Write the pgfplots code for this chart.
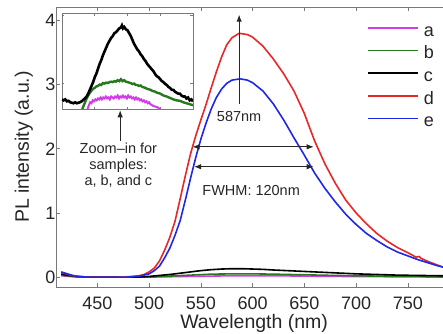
\documentclass[border=0pt]{standalone}
\usepackage{fontspec}
\setmainfont{Liberation Sans}
\usepackage{pgfplots}
\pgfplotsset{compat=1.18}
\usetikzlibrary{arrows.meta}
\definecolor{ca}{RGB}{210,60,230}
\definecolor{cb}{RGB}{40,120,30}
\definecolor{cc}{RGB}{0,0,0}
\definecolor{cd}{RGB}{230,40,40}
\definecolor{ce}{RGB}{30,40,230}
\definecolor{axgray}{RGB}{120,120,120}
\begin{document}
\begin{tikzpicture}
\begin{axis}[
  name=main,
  width=387pt, height=280pt, scale only axis,
  xmin=410, xmax=784, ymin=-0.155, ymax=4.21,
  axis x line=box, axis y line=left,
  axis line style={-, draw=axgray, line width=0.8pt},
  tick align=inside, major tick length=4pt,
  tick style={axgray, line width=0.6pt},
  xtick={450,500,...,750}, ytick={0,1,2,3,4},
  /pgf/number format/assume math mode=true,
  ticklabel style={font=\fontsize{18}{20}\selectfont, text=black!85},
  xticklabel style={anchor=base, yshift=-23pt},
  yticklabel style={anchor=east, xshift=3pt},
  xlabel={Wavelength (nm)}, ylabel={PL intensity (a.u.)},
  label style={font=\fontsize{19.5}{22}\selectfont, text=black!85},
  xlabel style={at={(axis description cs:0.512,0)}, anchor=base, yshift=-42pt},
  ylabel style={at={(axis description cs:-0.083,0.5)}, anchor=center},
  legend cell align=left,
  legend image code/.code={\draw[#1, line width=1.6pt] (0pt,4.7pt) -- (50pt,4.7pt);},
  legend style={draw=none, fill=none, at={(0.8036,0.95)}, anchor=north west,
    inner sep=0pt, row sep=0pt, column sep=5pt,
    nodes={inner sep=0pt, text height=15pt, text depth=7.7pt, font=\fontsize{18}{20}\selectfont, text=black!85}},
]
% a
\addplot[ca, line width=1.6pt] coordinates {
(415,0.02) (430,0.0) (500,0.0) (540,0.01) (580,0.02) (620,0.02) (680,0.01) (784,0.0)};
\addlegendentry{a}
% b
\addplot[cb, line width=1.6pt] coordinates {
(415,0.03) (430,0.005) (440,0) (500,0) (520,0.015) (540,0.03) (560,0.045) (580,0.05) (600,0.05) (620,0.045) (650,0.035) (680,0.025) (720,0.015) (760,0.01) (784,0.005)};
\addlegendentry{b}
% c
\addplot[cc, line width=1.6pt] coordinates {
(415,0.05) (420,0.03) (430,0.01) (440,0.0) (490,0.0) (500,0.01) (510,0.025) (520,0.04) (530,0.06) (540,0.08) (550,0.10) (560,0.115) (570,0.125) (580,0.13) (590,0.13) (600,0.125) (610,0.12) (620,0.11) (640,0.095) (660,0.08) (680,0.065) (700,0.05) (720,0.04) (740,0.03) (760,0.025) (784,0.02)};
\addlegendentry{c}
% d
\addplot[cd, line width=1.6pt] coordinates {
(415,0.07) (420,0.05) (425,0.025) (430,0.01) (440,0.0) (450,0.0) (460,0.0) (470,0.0) (480,0.005) (490,0.02) (495,0.04) (500,0.08) (505,0.14) (510,0.25) (515,0.42) (520,0.62) (525,0.87) (530,1.22) (535,1.58) (540,1.92) (545,2.2) (550,2.45) (555,2.69) (560,2.95) (565,3.2) (570,3.43) (575,3.62) (580,3.73) (587,3.80) (595,3.78) (600,3.74) (610,3.6) (620,3.4) (630,3.17) (640,2.9) (650,2.55) (660,2.12) (670,1.76) (680,1.46) (690,1.2) (700,1.0) (710,0.83) (720,0.68) (730,0.56) (740,0.46) (750,0.38) (758,0.31) (761,0.32) (763,0.29) (770,0.24) (778,0.19) (784,0.155)};
\addlegendentry{d}
% e
\addplot[ce, line width=1.6pt] coordinates {
(415,0.08) (420,0.055) (425,0.03) (430,0.012) (440,0.0) (450,0.0) (460,0.0) (470,0.0) (480,0.0) (490,0.012) (495,0.03) (500,0.05) (505,0.1) (510,0.17) (515,0.3) (520,0.45) (525,0.65) (530,0.88) (535,1.2) (540,1.54) (545,1.86) (550,2.15) (555,2.4) (560,2.62) (565,2.8) (570,2.93) (575,3.02) (580,3.07) (588,3.09) (595,3.07) (600,3.03) (610,2.9) (620,2.7) (630,2.45) (640,2.17) (650,1.9) (660,1.62) (670,1.38) (680,1.17) (690,0.98) (700,0.82) (710,0.68) (720,0.57) (730,0.47) (740,0.39) (750,0.33) (760,0.27) (770,0.22) (778,0.18) (784,0.155)};
\addlegendentry{e}

\draw[-{Latex[length=7pt,width=5.5pt]}, line width=0.9pt, black!85] (axis cs:587,2.70) -- (axis cs:587,4.09);
\node[font=\fontsize{14.5}{16}\selectfont, text=black!85] at (axis cs:587,2.51) {587nm};
\draw[{Latex[length=7pt,width=5.5pt]}-{Latex[length=7pt,width=5.5pt]}, line width=0.9pt, black!85] (axis cs:542,2.03) -- (axis cs:659,2.03);
\draw[{Latex[length=7pt,width=5.5pt]}-{Latex[length=7pt,width=5.5pt]}, line width=0.9pt, black!85] (axis cs:543.5,1.72) -- (axis cs:659,1.72);
\node[font=\fontsize{14.5}{16}\selectfont, text=black!85] at (axis cs:598.6,1.35) {FWHM: 120nm};
\node[align=center, font=\fontsize{14.5}{16}\selectfont, text=black!85] at (axis cs:470.3,1.74) {Zoom--in for\\samples:\\a, b, and c};
\draw[-{Latex[length=7pt,width=5.5pt]}, line width=0.9pt, black!85] (axis cs:472,2.12) -- (axis cs:472,2.60);

\coordinate (insetSW) at (rel axis cs:0.0155,0.6357);
\coordinate (SW) at (rel axis cs:0,0);
\coordinate (NE) at (rel axis cs:1,1);
\end{axis}

\begin{axis}[
  at={(insetSW)}, anchor=south west,
  width=131pt, height=96pt, scale only axis,
  xmin=400, xmax=800, ymin=0, ymax=1,
  axis line style={draw=axgray, line width=0.8pt},
  axis background/.style={fill=white},
  tick align=inside, major tick length=2.5pt,
  tick style={axgray, line width=0.5pt},
  xtick={500,600,700}, ytick={0.27,0.98},
  xticklabels={}, yticklabels={},
]
\addplot[ca, line width=2pt] coordinates {
(478,0.0) (482,0.04) (486,0.07) (490,0.06) (494,0.09) (498,0.08) (502,0.1) (506,0.09) (510,0.11) (514,0.1) (518,0.12) (522,0.1) (526,0.12) (530,0.11) (534,0.13) (538,0.11) (542,0.12) (546,0.1) (550,0.13) (554,0.12) (558,0.11) (562,0.13) (566,0.12) (570,0.14) (574,0.11) (578,0.13) (582,0.12) (586,0.14) (590,0.12) (594,0.13) (598,0.11) (602,0.14) (606,0.12) (610,0.13) (614,0.11) (618,0.12) (622,0.1) (626,0.12) (630,0.1) (634,0.11) (638,0.09) (642,0.1) (646,0.08) (650,0.09) (654,0.07) (658,0.08) (662,0.06) (666,0.07) (670,0.05) (675,0.04) (680,0.03) (690,0.02) (700,0.0)};
\addplot[cb, line width=2.4pt] coordinates {
(462,0.0) (468,0.05) (474,0.1) (480,0.14) (485,0.17) (490,0.19) (495,0.21) (500,0.22) (505,0.235) (510,0.24) (515,0.255) (520,0.25) (525,0.27) (530,0.265) (535,0.275) (540,0.27) (545,0.28) (550,0.285) (555,0.28) (560,0.29) (565,0.285) (570,0.3) (575,0.29) (580,0.31) (585,0.29) (590,0.3) (595,0.285) (600,0.28) (605,0.275) (610,0.27) (615,0.26) (620,0.265) (625,0.25) (630,0.25) (635,0.24) (640,0.245) (645,0.23) (650,0.225) (655,0.22) (660,0.21) (665,0.205) (670,0.2) (675,0.19) (680,0.185) (685,0.18) (690,0.17) (695,0.165) (700,0.16) (710,0.14) (720,0.13) (730,0.115) (740,0.1) (750,0.09) (760,0.085) (770,0.07) (780,0.06) (790,0.05) (800,0.04)};
\addplot[cc, line width=2.6pt] coordinates {
(400,0.10) (405,0.09) (410,0.1) (415,0.08) (420,0.085) (425,0.07) (430,0.065) (435,0.06) (440,0.07) (445,0.06) (450,0.065) (455,0.07) (460,0.08) (465,0.095) (470,0.11) (475,0.13) (480,0.16) (485,0.2) (490,0.24) (495,0.28) (500,0.33) (505,0.37) (510,0.42) (515,0.47) (520,0.51) (525,0.56) (530,0.6) (535,0.64) (540,0.68) (545,0.71) (550,0.74) (555,0.76) (560,0.79) (565,0.8) (570,0.82) (575,0.84) (580,0.85) (583,0.87) (586,0.84) (590,0.855) (595,0.83) (600,0.82) (605,0.79) (610,0.76) (615,0.72) (620,0.68) (625,0.65) (630,0.62) (635,0.6) (640,0.57) (645,0.55) (650,0.52) (655,0.5) (660,0.47) (665,0.45) (670,0.43) (675,0.41) (680,0.39) (685,0.36) (690,0.34) (695,0.33) (700,0.31) (705,0.29) (710,0.28) (715,0.26) (720,0.25) (725,0.23) (730,0.22) (735,0.2) (740,0.2) (745,0.18) (750,0.17) (755,0.16) (760,0.16) (765,0.14) (770,0.13) (775,0.13) (780,0.11) (785,0.12) (790,0.09) (795,0.1) (800,0.08)};
\end{axis}
\pgfresetboundingbox
\path[use as bounding box] ([xshift=-56pt,yshift=-47pt]SW) rectangle ([yshift=7pt]NE);
\end{tikzpicture}
\end{document}
